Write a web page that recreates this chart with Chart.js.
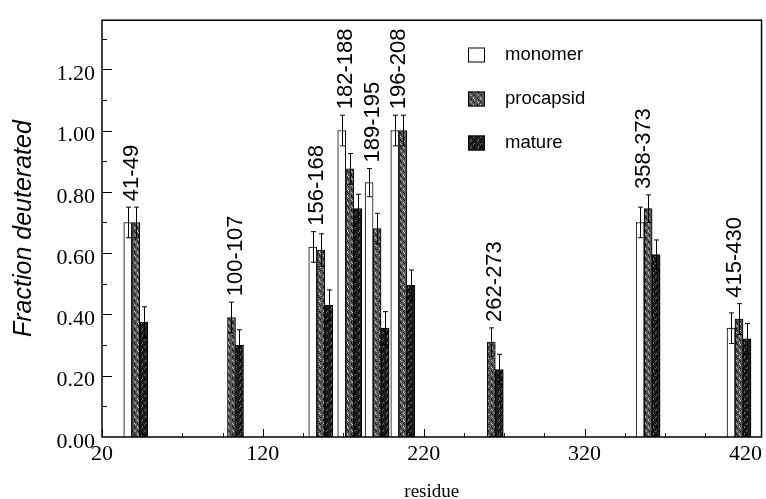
<!DOCTYPE html>
<html><head><meta charset="utf-8">
<script src="https://cdn.jsdelivr.net/npm/chart.js@4/dist/chart.umd.min.js"></script>
<style>html,body{margin:0;padding:0;background:#fff}</style>
</head><body>
<canvas id="c" width="766" height="499"></canvas>
<script>
// ---- data ----
const peptides   = ['41-49','100-107','156-168','182-188','189-195','196-208','262-273','358-373','415-430'];
const residuePos = [41, 100.5, 156, 174, 191, 207, 262, 359.5, 416];
const monomer      = [0.70, null, 0.62, 1.00, 0.83, 1.00, null, 0.70, 0.355];
const monomerErr   = [0.05, null, 0.05, 0.05, 0.046, 0.05, null, 0.05, 0.05];
const procapsid    = [0.70, 0.39, 0.61, 0.875, 0.68, 1.00, 0.31, 0.745, 0.385];
const procapsidErr = [0.05, 0.05, 0.053, 0.05, 0.05, 0.05, 0.046, 0.045, 0.05];
const mature       = [0.375, 0.30, 0.43, 0.745, 0.355, 0.495, 0.22, 0.595, 0.32];
const matureErr    = [0.05, 0.05, 0.05, 0.047, 0.054, 0.05, 0.05, 0.048, 0.05];
const seriesNames  = ['monomer','procapsid','mature'];
const xTicks = [20, 120, 220, 320, 420];
const xTickLabels = ['20','120','220','320','420'];
const yTicks = [0, 0.2, 0.4, 0.6, 0.8, 1.0, 1.2];
const yTickLabels = ['0.00','0.20','0.40','0.60','0.80','1.00','1.20'];

// ---- speckled fills (deterministic) ----
function makePattern(base, dotA, dotB, seed) {
  const c = document.createElement('canvas'); c.width = 7; c.height = 7;
  const g = c.getContext('2d');
  g.fillStyle = base; g.fillRect(0, 0, 7, 7);
  for (let i = 0; i < 7; i++) for (let j = 0; j < 7; j++) {
    const h = (i * 5 + j * 3 + i * j * 2 + seed) % 6;
    if (h === 0) { g.fillStyle = dotA; g.fillRect(i, j, 1, 1); }
    else if (h === 3) { g.fillStyle = dotB; g.fillRect(i, j, 1, 1); }
  }
  return g.createPattern(c, 'repeat');
}
const procFill = makePattern('#575757', '#151515', '#bdbdbd', 1);
const matFill  = makePattern('#1c1c1c', '#6a6a6a', '#000000', 2);

function pts(arr) { return residuePos.map((x, i) => ({ x: x, y: arr[i] })); }
const bw = c => (c.raw && c.raw.y != null) ? 1 : 0;

const errorPlugin = {
  id: 'errs',
  afterDatasetsDraw(chart) {
    const g = chart.ctx, ys = chart.scales.y;
    g.save(); g.strokeStyle = '#000'; g.lineWidth = 1;
    chart.data.datasets.forEach((ds, di) => {
      const meta = chart.getDatasetMeta(di);
      ds.data.forEach((p, k) => {
        if (p.y == null) return;
        const e = ds.errors[k], el = meta.data[k];
        const x = Math.round(el.x) + 0.5;
        const yt = ys.getPixelForValue(p.y + e), yb = ys.getPixelForValue(p.y - e);
        g.beginPath();
        g.moveTo(x, yt); g.lineTo(x, yb);
        g.moveTo(x - 2.5, yt); g.lineTo(x + 2.5, yt);
        g.moveTo(x - 2.5, yb); g.lineTo(x + 2.5, yb);
        g.stroke();
      });
    });
    g.restore();
  }
};

const labelPlugin = {
  id: 'peps',
  afterDatasetsDraw(chart) {
    const g = chart.ctx, ys = chart.scales.y;
    g.save();
    g.fillStyle = '#000';
    g.font = '22px "Liberation Sans", Arial, sans-serif';
    g.textAlign = 'left'; g.textBaseline = 'middle';
    peptides.forEach((lab, k) => {
      let xl = null, top = 0;
      chart.data.datasets.forEach((ds, di) => {
        const p = ds.data[k];
        if (p.y == null) return;
        const el = chart.getDatasetMeta(di).data[k];
        if (xl === null) xl = el.x + el.width / 2;
        top = Math.max(top, p.y + ds.errors[k]);
      });
      const yp = ys.getPixelForValue(top) - 6;
      g.save(); g.translate(xl, yp); g.rotate(-Math.PI / 2);
      g.fillText(lab, 0, 0);
      g.restore();
    });
    g.restore();
  }
};

const framePlugin = {
  id: 'frame',
  afterDraw(chart) {
    const g = chart.ctx, a = chart.chartArea, xs = chart.scales.x, ys = chart.scales.y;
    g.save(); g.strokeStyle = '#000';
    g.lineWidth = 1.5;
    g.strokeRect(a.left, a.top, a.right - a.left, a.bottom - a.top);
    g.lineWidth = 1;
    g.beginPath();
    for (let v = 20; v <= 430; v += 25) {
      const px = Math.round(xs.getPixelForValue(v)) + 0.5;
      const len = ((v - 20) % 100 === 0) ? 8 : 4;
      g.moveTo(px, a.bottom); g.lineTo(px, a.bottom - len);
    }
    for (let i = 1; i <= 13; i++) {
      const py = Math.round(ys.getPixelForValue(i / 10)) + 0.5;
      const len = (i % 2 === 0) ? 10 : 5;
      g.moveTo(a.left, py); g.lineTo(a.left + len, py);
    }
    g.stroke();
    g.restore();
  }
};

const legendPlugin = {
  id: 'legendBox',
  afterDraw(chart) {
    const g = chart.ctx;
    const rows = [55, 99, 143];
    g.save();
    g.font = '18.5px "Liberation Sans", Arial, sans-serif';
    g.textAlign = 'left'; g.textBaseline = 'middle';
    chart.data.datasets.forEach((ds, i) => {
      const cy = rows[i];
      g.fillStyle = ds.backgroundColor;
      g.fillRect(468, cy - 7.5, 17, 15);
      g.strokeStyle = '#000'; g.lineWidth = 1;
      g.strokeRect(468.5, cy - 7, 16, 14);
      g.fillStyle = '#000';
      g.fillText(ds.label, 505, cy);
    });
    g.restore();
  }
};

new Chart(document.getElementById('c').getContext('2d'), {
  type: 'bar',
  data: {
    datasets: [
      { label: seriesNames[0], data: pts(monomer),   errors: monomerErr,   backgroundColor: '#ffffff', borderColor: '#000', borderWidth: bw },
      { label: seriesNames[1], data: pts(procapsid), errors: procapsidErr, backgroundColor: procFill,  borderColor: '#000', borderWidth: bw },
      { label: seriesNames[2], data: pts(mature),    errors: matureErr,    backgroundColor: matFill,   borderColor: '#000', borderWidth: bw }
    ]
  },
  options: {
    responsive: false, animation: false, devicePixelRatio: 1,
    layout: { padding: { top: 16, right: 2, left: 0, bottom: 0 } },
    datasets: { bar: { barThickness: 8, grouped: true } },
    plugins: { legend: { display: false }, tooltip: { enabled: false } },
    scales: {
      x: {
        type: 'linear', min: 20, max: 430, offset: false,
        grid: { display: false, drawTicks: false }, border: { display: false },
        afterBuildTicks: s => { s.ticks = xTicks.map(v => ({ value: v })); },
        afterFit: s => { s.height = 62; },
        ticks: { autoSkip: false, maxRotation: 0, padding: 4, color: '#000',
          font: { family: '"Liberation Serif", "Times New Roman", serif', size: 22 },
          callback: (v, i) => xTickLabels[i] },
        title: { display: true, text: 'residue', color: '#000', padding: 0,
          font: { family: '"Liberation Serif", "Times New Roman", serif', size: 19, lineHeight: 0.7 } }
      },
      y: {
        min: 0, max: 1.36,
        grid: { display: false, drawTicks: false }, border: { display: false },
        afterBuildTicks: s => { s.ticks = yTicks.map(v => ({ value: v })); },
        afterFit: s => { s.width = 102; },
        ticks: { padding: 7, labelOffset: 5, color: '#000',
          font: { family: '"Liberation Serif", "Times New Roman", serif', size: 22 },
          callback: (v, i) => yTickLabels[i] },
        title: { display: true, text: 'Fraction deuterated', color: '#000', padding: { top: 9, bottom: 0 },
          font: { family: '"Liberation Sans", Arial, sans-serif', size: 25, style: 'italic' } }
      }
    }
  },
  plugins: [errorPlugin, labelPlugin, framePlugin, legendPlugin]
});
</script>
</body></html>
